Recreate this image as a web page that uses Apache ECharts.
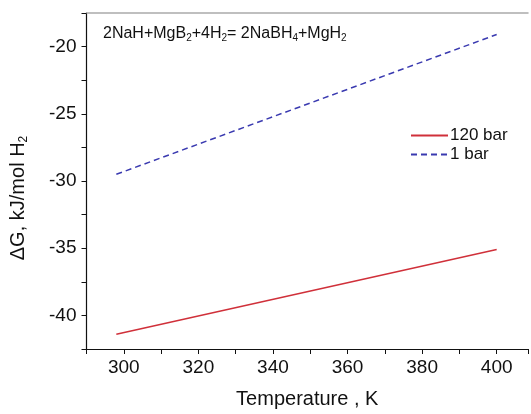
<!DOCTYPE html>
<html>
<head>
<meta charset="utf-8">
<script src="https://cdn.jsdelivr.net/npm/echarts@6/dist/echarts.min.js"></script>
<style>
  html, body { margin: 0; padding: 0; background: #fff; }
  #chart { width: 531px; height: 414px; }
</style>
</head>
<body>
<div id="chart"></div>
<script>
// temperature (K) at the ends of each line
const temps = [298, 400];
// ΔG values, kJ/mol H2
const dG120bar = [-41.4, -35.1];
const dG1bar = [-29.5, -19.1];
const seriesNames = ["120 bar", "1 bar"];

const chart = echarts.init(document.getElementById("chart"));
const font = "Liberation Sans, Arial, sans-serif";

chart.setOption({
  animation: false,
  textStyle: { fontFamily: font },
  title: {
    left: 103,
    top: 24,
    padding: 0,
    text: "2NaH+MgB{s|2}+4H{s|2}= 2NaBH{s|4}+MgH{s|2}",
    textStyle: {
      fontFamily: font,
      fontSize: 16,
      fontWeight: "normal",
      color: "#111",
      rich: {
        s: { fontSize: 10, verticalAlign: "bottom", padding: [9, 0, 0, 0], color: "#111" }
      }
    }
  },
  legend: {
    orient: "vertical",
    left: 410,
    top: 127,
    padding: 0,
    itemWidth: 37,
    itemHeight: 10,
    itemGap: 2,
    itemStyle: { opacity: 0 },
    textStyle: { fontFamily: font, fontSize: 17, color: "#111", padding: [0, 0, 0, -3] },
    data: seriesNames
  },
  grid: {
    left: 86,
    top: 13,
    right: 0,
    bottom: 62
  },
  xAxis: [
    {
      type: "value",
      min: 290,
      max: 408.4,
      interval: 10,
      name: "Temperature , K",
      nameLocation: "middle",
      nameGap: 40,
      nameTextStyle: { fontFamily: font, fontSize: 20, color: "#111" },
      axisLine: { lineStyle: { color: "#111", width: 1.2 } },
      axisTick: { show: true, length: 5, lineStyle: { color: "#111" } },
      axisLabel: {
        fontFamily: font,
        fontSize: 19,
        color: "#111",
        margin: 9,
        formatter: v => (v % 20 === 0 ? String(v) : "")
      },
      splitLine: { show: false }
    },
    {
      // top frame line
      type: "value",
      position: "top",
      min: 290,
      max: 408.4,
      axisLine: { show: true, lineStyle: { color: "#aaa", width: 1.5 } },
      axisTick: { show: false },
      axisLabel: { show: false },
      splitLine: { show: false }
    }
  ],
  yAxis: {
    type: "value",
    min: -42.5,
    max: -17.5,
    interval: 2.5,
    name: "ΔG, kJ/mol H{s|2}",
    nameLocation: "middle",
    nameGap: 57,
    nameTextStyle: {
      fontFamily: font,
      fontSize: 20,
      color: "#111",
      padding: [0, 34, 0, 0],
      rich: {
        s: { fontSize: 12, verticalAlign: "bottom", padding: [11, 0, 0, 0], color: "#111" }
      }
    },
    axisLine: { show: true, lineStyle: { color: "#111", width: 1.2 } },
    axisTick: { show: true, length: 5, lineStyle: { color: "#111" } },
    axisLabel: {
      fontFamily: font,
      fontSize: 19,
      color: "#111",
      margin: 10,
      formatter: v => (v % 5 === 0 ? String(v) : "")
    },
    splitLine: { show: false }
  },
  series: [
    {
      name: seriesNames[0],
      type: "line",
      symbol: "none",
      data: temps.map((t, i) => [t, dG120bar[i]]),
      lineStyle: { color: "#d0303a", width: 1.5 },
      itemStyle: { color: "#d0303a" }
    },
    {
      name: seriesNames[1],
      type: "line",
      symbol: "none",
      data: temps.map((t, i) => [t, dG1bar[i]]),
      lineStyle: { color: "#3a3ab0", width: 1.5, type: [6, 4] },
      itemStyle: { color: "#3a3ab0" }
    }
  ]
});
</script>
</body>
</html>
